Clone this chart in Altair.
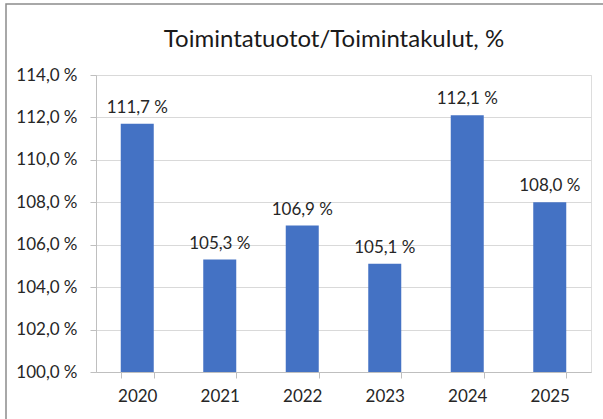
import altair as alt
import pandas as pd

years = ["2020", "2021", "2022", "2023", "2024", "2025"]
values = [111.7, 105.3, 106.9, 105.1, 112.1, 108.0]
y_ticks = [100, 102, 104, 106, 108, 110, 112, 114]
title_text = "Toimintatuotot/Toimintakulut, %"

df = pd.DataFrame({"year": years, "value": values})
df["label"] = [f"{v:.1f}".replace(".", ",") + "\u2005%" for v in values]

FONT = "Lato"
TEXT = "#262626"

x = alt.X("year:N", sort=years, title=None,
          scale=alt.Scale(paddingInner=0.6, paddingOuter=0.3),
          axis=alt.Axis(labelAngle=0, labelFontSize=17, labelColor=TEXT, labelFont=FONT,
                        labelPadding=10, tickBand="extent", tickSize=6, tickColor="#bfbfbf",
                        domainColor="#bfbfbf", grid=False))
y = alt.Y("value:Q", title=None,
          scale=alt.Scale(domain=[100, 114], zero=False, nice=False),
          axis=alt.Axis(values=y_ticks, labelFontSize=17, labelColor=TEXT, labelFont=FONT,
                        labelExpr="replace(format(datum.value, '.1f'), '.', ',') + '\u2005%'",
                        tickSize=6, tickColor="#bfbfbf", domainColor="#bfbfbf",
                        gridColor="#d9d9d9", labelPadding=13))

bars = alt.Chart(df).mark_bar(color="#4472C4").encode(x=x, y=y, y2=alt.datum(100))
labels = alt.Chart(df).mark_text(baseline="alphabetic", dy=-11, fontSize=17, font=FONT, color=TEXT).encode(
    x=alt.X("year:N", sort=years), y="value:Q", text="label:N")

frame = alt.Chart(alt.Data(values=[{"a": 1}])).mark_rect(
    fill="transparent", stroke="#8c8c8c", strokeWidth=1.5).encode(
    x=alt.value(-90), x2=alt.value(800), y=alt.value(-71), y2=alt.value(600))

title = alt.Chart(alt.Data(values=[{"t": title_text}])).mark_text(
    fontSize=24, font=FONT, color="#1a1a1a", baseline="alphabetic", align="center").encode(
    x=alt.value(238), y=alt.value(-28), text="t:N")

chart = alt.layer(frame, bars, labels, title).properties(
    width=495, height=297,
    autosize=alt.AutoSizeParams(type="none"),
    padding={"left": 96, "top": 75, "right": 12, "bottom": 47},
).configure_view(stroke=None).configure(background="white")

chart.save("out.html", embed_options={"renderer": "svg", "actions": False})
